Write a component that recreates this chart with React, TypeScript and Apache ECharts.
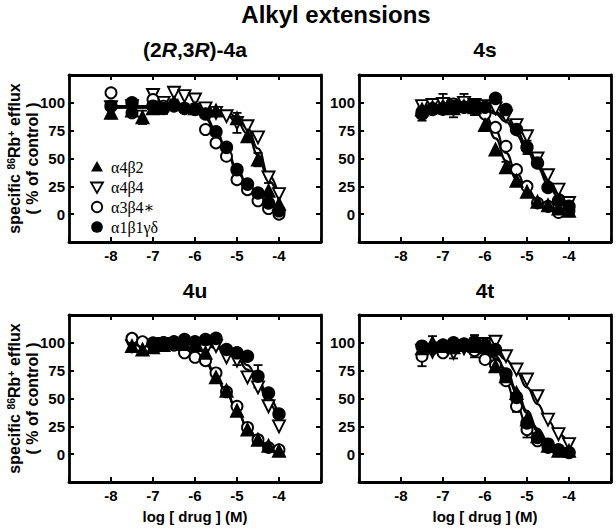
import React, { useEffect, useRef } from "react";
import * as echarts from "echarts";

const SERIES_NAMES = ["α4β2", "α4β4", "α3β4∗", "α1β1γδ"];
const X_TICKS = [-8, -7, -6, -5, -4];
const Y_TICKS = [0, 25, 50, 75, 100];
const MAIN_TITLE = "Alkyl extensions";
const X_NAME = "log [ drug ] (M)";

// ---------- Panel 1: (2R,3R)-4a ----------
const P1_DOSES = [-8, -7.5, -7.25, -7, -6.75, -6.5, -6.25, -6, -5.75, -5.5, -5.25, -5, -4.75, -4.5, -4.25, -4];
const P1_A4B2 = [91, 93, 87, 95, null, 100, null, 95, null, 93, null, 86, 70, 49, 21, 9];
const P1_A4B4 = [96, 97, null, 107, 100, 109, 106, 103, 95, 91, 88, 82, 79, 69, 33, 18];
const P1_A3B4 = [109, 91, null, 103, 97, 97, null, 94, 76, 64, 52, 31, 22, 12, 5, 0];
const P1_A1B1 = [97, 100, null, 97, 95, 98, 95, 94, 90, 74, 60, 40, 27, 19, 10, 3];
const P1_ERR_A4B2 = [5, null, 6, null, null, 3, null, null, null, null, null, null, null, 6, null, null];
const P1_ERR_A4B4 = [null, null, null, 4, null, null, null, 4, null, null, null, 9, null, null, 5, null];
const P1_ERR_A3B4 = [null, 3, null, null, null, null, null, null, null, null, null, null, null, null, null, null];
const P1_ERR_A1B1 = [null, null, null, null, 5, null, null, null, null, null, null, null, null, null, null, null];
const P1_CURVE_X = [-8, -7, -6.5, -6, -5.75, -5.5, -5.25, -5, -4.75, -4.5, -4.25, -4];
const P1_FIT_A4B2 = [96, 96, 96, 95, 94, 92, 89, 83, 72, 53, 30, 13];
const P1_FIT_A4B4 = [97, 97, 97, 96.5, 96, 94.5, 92, 87, 77, 59, 35, 16];
const P1_FIT_A3B4 = [96, 96, 95.5, 93, 86, 73, 56, 39, 24, 13, 6, 2.5];
const P1_FIT_A1B1 = [96, 96, 95.5, 94, 88, 75, 58, 41, 26, 15, 8, 4];

// ---------- Panel 2: 4s ----------
const P2_DOSES = [-7.5, -7.25, -7, -6.75, -6.5, -6.25, -6, -5.75, -5.5, -5.25, -5, -4.75, -4.5, -4.25, -4];
const P2_A4B2 = [94, 96, 97, 95, 97, 96, 80, 58, 42, 30, 20, 11, 8, 5, 3];
const P2_A4B4 = [97, 98, 99, 96, 100, 98, 97, 95, 88, 80, 70, 50, 35, 22, 10];
const P2_A3B4 = [92, 95, 94, 99, 96, 95, 90, 78, 61, 40, 25, 10, 7, 1.5, 3];
const P2_A1B1 = [90, 94, 95, 97, 96, 98, 96, 104, 94, 76, 60, 46, 24, 12, 7];
const P2_ERR_A4B2 = [null, 6, null, 8, null, 7, null, null, 5, null, null, null, null, null, null];
const P2_ERR_A4B4 = [null, null, 9, null, 8, null, null, null, null, null, null, null, null, null, null];
const P2_ERR_A3B4 = [null, null, null, null, null, null, null, null, null, null, null, null, null, null, null];
const P2_ERR_A1B1 = [6, null, null, null, null, null, null, null, null, null, 6, null, null, null, null];
const P2_CURVE_X = [-7.5, -6.5, -6.25, -6, -5.75, -5.5, -5.25, -5, -4.75, -4.5, -4.25, -4];
const P2_FIT_A4B2 = [95, 95, 93, 85, 68, 48, 32, 20, 12, 7, 4, 3];
const P2_FIT_A4B4 = [97, 97, 97, 95, 92, 86, 75, 61, 45, 30, 18, 10];
const P2_FIT_A3B4 = [95, 95, 94, 89, 75, 55, 37, 23, 13, 7, 4, 3];
const P2_FIT_A1B1 = [97, 97, 96, 94, 90, 83, 71, 57, 42, 27, 15, 8];

// ---------- Panel 3: 4u ----------
const P3_DOSES = [-7.5, -7.25, -7, -6.75, -6.5, -6.25, -6, -5.75, -5.5, -5.25, -5, -4.75, -4.5, -4.25, -4];
const P3_A4B2 = [97, 94, 96, 98, 100, 99, 98, 91, 69, 57, 39, 22, 13, 7.5, 3];
const P3_A4B4 = [97, 96, 97, 99, 99, 98, 99, 93, 97, 87, 84, 69, 60, 43, 25];
const P3_A3B4 = [104, 101, 100, 100, 98, 91, 87, 84, 73, 56, 43, 24, 13, 6, 4];
const P3_A1B1 = [null, null, 99, 100, 101, 103, 101, 103, 104, 94, 91, 88, 70, 55, 36];
const P3_ERR_A4B2 = [null, null, null, null, null, null, null, null, 4, null, null, null, null, null, null];
const P3_ERR_A4B4 = [null, null, null, null, null, null, null, null, null, null, 4, null, null, null, null];
const P3_ERR_A3B4 = [null, null, null, null, null, null, null, null, null, null, null, 3, null, null, null];
const P3_ERR_A1B1 = [null, null, null, null, null, null, null, null, null, null, null, null, 10, null, null];
const P3_CURVE_X = [-7.5, -6.5, -6.25, -6, -5.75, -5.5, -5.25, -5, -4.75, -4.5, -4.25, -4];
const P3_FIT_A4B2 = [98, 98, 96, 92, 84, 71, 55, 39, 24, 13, 7, 4];
const P3_FIT_A4B4 = [99, 99, 99, 98.5, 97.5, 95.5, 92, 86, 76, 63, 46, 28];
const P3_FIT_A3B4 = [98, 97, 95, 91, 82, 70, 54, 39, 24, 13, 7.5, 4.5];
const P3_FIT_A1B1 = [101, 101, 101, 100.5, 99.5, 97.5, 94.5, 89, 80, 67, 51, 34];

// ---------- Panel 4: 4t ----------
const P4_DOSES = [-7.5, -7.25, -7, -6.75, -6.5, -6.25, -6, -5.75, -5.5, -5.25, -5, -4.75, -4.5, -4.25, -4];
const P4_A4B2 = [95, 100, 97, 96, 98, 97, 96, 79, 70, 55, 31, 16, 7.5, 3, 3];
const P4_A4B4 = [93, 92, 95, 91, 95, 96, 99, 101, 88, 76, 67, 52, 31, 18, 9];
const P4_A3B4 = [88, null, 91, null, null, 93, 85, 80, 66, 43, 22, 12, 6, 3, 1.5];
const P4_A1B1 = [97, 95, 98, 100, 99, 101, 98, 94, 72, 51, 28, 15, 9, 4, 1.5];
const P4_ERR_A4B2 = [null, 6, null, null, null, 10, null, null, null, null, null, null, null, null, null];
const P4_ERR_A4B4 = [null, null, null, 5, null, 4, null, null, null, null, null, null, null, null, null];
const P4_ERR_A3B4 = [9, null, null, null, null, null, null, null, null, 5, 7, null, null, null, null];
const P4_ERR_A1B1 = [null, null, null, null, null, null, null, null, null, null, null, null, null, null, null];
const P4_CURVE_X = [-7.5, -6.5, -6.25, -6, -5.75, -5.5, -5.25, -5, -4.75, -4.5, -4.25, -4];
const P4_FIT_A4B2 = [97, 97, 96, 93, 86, 74, 56, 37, 21, 11, 5, 2.5];
const P4_FIT_A4B4 = [98, 98, 97.5, 96, 92, 85, 74, 60, 45, 30, 18, 9];
const P4_FIT_A3B4 = [96, 96, 94, 90, 80, 64, 44, 26, 13, 6, 3, 2];
const P4_FIT_A1B1 = [97, 97, 96.5, 94, 88, 76, 58, 39, 23, 12, 6, 3];

const PANELS = [
  { doses: P1_DOSES, vals: [P1_A4B2, P1_A4B4, P1_A3B4, P1_A1B1], errs: [P1_ERR_A4B2, P1_ERR_A4B4, P1_ERR_A3B4, P1_ERR_A1B1], cx: P1_CURVE_X, fits: [P1_FIT_A4B2, P1_FIT_A4B4, P1_FIT_A3B4, P1_FIT_A1B1] },
  { doses: P2_DOSES, vals: [P2_A4B2, P2_A4B4, P2_A3B4, P2_A1B1], errs: [P2_ERR_A4B2, P2_ERR_A4B4, P2_ERR_A3B4, P2_ERR_A1B1], cx: P2_CURVE_X, fits: [P2_FIT_A4B2, P2_FIT_A4B4, P2_FIT_A3B4, P2_FIT_A1B1] },
  { doses: P3_DOSES, vals: [P3_A4B2, P3_A4B4, P3_A3B4, P3_A1B1], errs: [P3_ERR_A4B2, P3_ERR_A4B4, P3_ERR_A3B4, P3_ERR_A1B1], cx: P3_CURVE_X, fits: [P3_FIT_A4B2, P3_FIT_A4B4, P3_FIT_A3B4, P3_FIT_A1B1] },
  { doses: P4_DOSES, vals: [P4_A4B2, P4_A4B4, P4_A3B4, P4_A1B1], errs: [P4_ERR_A4B2, P4_ERR_A4B4, P4_ERR_A3B4, P4_ERR_A1B1], cx: P4_CURVE_X, fits: [P4_FIT_A4B2, P4_FIT_A4B4, P4_FIT_A3B4, P4_FIT_A1B1] },
];

const FONT = "'Liberation Sans', Arial, Helvetica, sans-serif";
const SERIF = "'Liberation Serif', 'Times New Roman', 'DejaVu Serif', serif";

const GRID_POS = [
  { left: 69, top: 75 },
  { left: 359, top: 75 },
  { left: 69, top: 315 },
  { left: 359, top: 315 },
];
const GRID_W = 252;
const GRID_H = 167;

const MARKS = [
  { symbol: "triangle", rotate: 0, fill: "#000", size: 12 },
  { symbol: "triangle", rotate: 180, fill: "#fff", size: 12 },
  { symbol: "circle", rotate: 0, fill: "#fff", size: 11 },
  { symbol: "circle", rotate: 0, fill: "#000", size: 11.5 },
];

function buildOption() {
  const grid: any[] = [];
  const xAxis: any[] = [];
  const yAxis: any[] = [];
  const series: any[] = [];

  const lineStyle = { color: "#000", width: 2.8 };
  const tick = { show: true, inside: true, length: 5, lineStyle: { color: "#000", width: 2 } };

  PANELS.forEach((p, i) => {
    grid.push({ left: GRID_POS[i].left, top: GRID_POS[i].top, width: GRID_W, height: GRID_H });
    const isBottom = i >= 2;
    const xBase = {
      gridIndex: i, type: "value", min: -9, max: -3, interval: 1,
      axisLine: { show: true, onZero: false, lineStyle },
      axisTick: tick,
      splitLine: { show: false },
    };
    xAxis.push({
      ...xBase, position: "bottom",
      axisLabel: {
        show: true, margin: 6, color: "#000", fontSize: 15, fontWeight: "bold", fontFamily: FONT,
        formatter: (v: number) => (X_TICKS.includes(v) ? String(v) : ""),
      },
      name: isBottom ? X_NAME : "",
      nameLocation: "middle", nameGap: 27,
      nameTextStyle: { color: "#000", fontSize: 15, fontWeight: "bold", fontFamily: FONT },
    });
    xAxis.push({ ...xBase, position: "top", axisLabel: { show: false } });
    const yBase = {
      gridIndex: i, type: "value", min: -25, max: 125, interval: 25,
      axisLine: { show: true, onZero: false, lineStyle },
      axisTick: tick,
      splitLine: { show: false },
    };
    yAxis.push({
      ...yBase, position: "left",
      axisLabel: {
        show: true, margin: 4, color: "#000", fontSize: 15, fontWeight: "bold", fontFamily: FONT,
        formatter: (v: number) => (Y_TICKS.includes(v) ? String(v) : ""),
      },
    });
    yAxis.push({ ...yBase, position: "right", axisLabel: { show: false } });

    const xi = i * 2;
    const yi = i * 2;

    p.fits.forEach((fit, k) => {
      series.push({
        type: "line", name: "fit" + i + "_" + k, xAxisIndex: xi, yAxisIndex: yi,
        data: p.cx.map((x, j) => [x, fit[j]]),
        showSymbol: false, smooth: 0.5, smoothMonotone: "x",
        lineStyle: { color: "#000", width: 2.2 }, z: 2, silent: true,
      });
    });

    const errData: any[] = [];
    p.vals.forEach((vals, k) => {
      vals.forEach((v, j) => {
        const e = p.errs[k][j];
        if (v != null && e != null) errData.push([p.doses[j], v, e]);
      });
    });
    series.push({
      type: "custom", name: "err" + i, xAxisIndex: xi, yAxisIndex: yi, z: 3, silent: true,
      encode: { x: 0, y: 1 },
      data: errData,
      renderItem: (params: any, api: any) => {
        const x = api.value(0), y = api.value(1), e = api.value(2);
        const top = api.coord([x, y + e]);
        const bot = api.coord([x, y - e]);
        const hw = 4.5;
        const st = { stroke: "#000", lineWidth: 1.8 };
        return {
          type: "group",
          children: [
            { type: "line", shape: { x1: top[0], y1: top[1], x2: bot[0], y2: bot[1] }, style: st },
            { type: "line", shape: { x1: top[0] - hw, y1: top[1], x2: top[0] + hw, y2: top[1] }, style: st },
            { type: "line", shape: { x1: bot[0] - hw, y1: bot[1], x2: bot[0] + hw, y2: bot[1] }, style: st },
          ],
        };
      },
    });

    p.vals.forEach((vals, k) => {
      const m = MARKS[k];
      const data: any[] = [];
      vals.forEach((v, j) => { if (v != null) data.push([p.doses[j], v]); });
      series.push({
        type: "scatter", name: SERIES_NAMES[k], xAxisIndex: xi, yAxisIndex: yi,
        symbol: m.symbol, symbolRotate: m.rotate, symbolSize: m.size,
        itemStyle: { color: m.fill, borderColor: "#000", borderWidth: 1.9, opacity: 1 },
        data, z: 4 + (k === 1 || k === 2 ? 0 : 1), silent: true,
      });
    });
  });

  const titleStyle = (size: number) => ({ fontSize: size, fontWeight: "bold", fontFamily: FONT, fill: "#000" });

  const graphic: any[] = [
    { type: "text", x: 336, y: 14, style: { ...titleStyle(24), text: MAIN_TITLE, align: "center", verticalAlign: "middle" } },
    {
      type: "text", x: 195, y: 49,
      style: {
        text: "{b|(2}{i|R}{b|,3}{i|R}{b|)-4a}", align: "center", verticalAlign: "middle",
        rich: {
          b: { ...titleStyle(21) },
          i: { ...titleStyle(21), fontStyle: "italic" },
        },
      },
    },
    { type: "text", x: 485, y: 49, style: { ...titleStyle(21), text: "4s", align: "center", verticalAlign: "middle" } },
    { type: "text", x: 195, y: 290, style: { ...titleStyle(21), text: "4u", align: "center", verticalAlign: "middle" } },
    { type: "text", x: 485, y: 290, style: { ...titleStyle(21), text: "4t", align: "center", verticalAlign: "middle" } },
  ];

  [158.5, 398.5].forEach((cy) => {
    graphic.push({
      type: "text", x: 23.5, y: cy, rotation: Math.PI / 2,
      style: {
        text: "{a|specific }{s|86}{a|Rb}{s|+}{a| efflux}\n{a|( % of control )}",
        align: "center", verticalAlign: "middle", fill: "#000",
        rich: {
          a: { fontSize: 16, fontWeight: "bold", fontFamily: FONT, lineHeight: 18, fill: "#000" },
          s: { fontSize: 10.5, fontWeight: "bold", fontFamily: FONT, lineHeight: 18, verticalAlign: "top", fill: "#000" },
        },
      },
    });
  });

  const lx = 97;
  const rows = [167, 187, 207, 227];
  graphic.push(
    { type: "polygon", shape: { points: [[lx, rows[0] - 6], [lx + 6, rows[0] + 4.5], [lx - 6, rows[0] + 4.5]] }, style: { fill: "#000" } },
    { type: "polygon", shape: { points: [[lx - 6, rows[1] - 4.5], [lx + 6, rows[1] - 4.5], [lx, rows[1] + 6]] }, style: { fill: "#fff", stroke: "#000", lineWidth: 1.8 } },
    { type: "circle", shape: { cx: lx, cy: rows[2], r: 5.2 }, style: { fill: "#fff", stroke: "#000", lineWidth: 1.8 } },
    { type: "circle", shape: { cx: lx, cy: rows[3], r: 5.8 }, style: { fill: "#000" } },
  );
  SERIES_NAMES.forEach((n, k) => {
    graphic.push({
      type: "text", x: 111, y: rows[k],
      style: { text: n, fontSize: 16, fontFamily: SERIF, fill: "#000", align: "left", verticalAlign: "middle" },
    });
  });

  return {
    animation: false,
    backgroundColor: "#fff",
    grid, xAxis, yAxis, series, graphic,
  };
}

export default function App() {
  const ref = useRef<HTMLDivElement>(null);
  useEffect(() => {
    if (!ref.current) return;
    const chart = echarts.init(ref.current, undefined, { renderer: "svg" });
    chart.setOption(buildOption() as any);
    return () => chart.dispose();
  }, []);
  return (
    <div
      ref={ref}
      style={{ position: "fixed", left: 0, top: 0, width: 616, height: 529, background: "#fff" }}
    />
  );
}
